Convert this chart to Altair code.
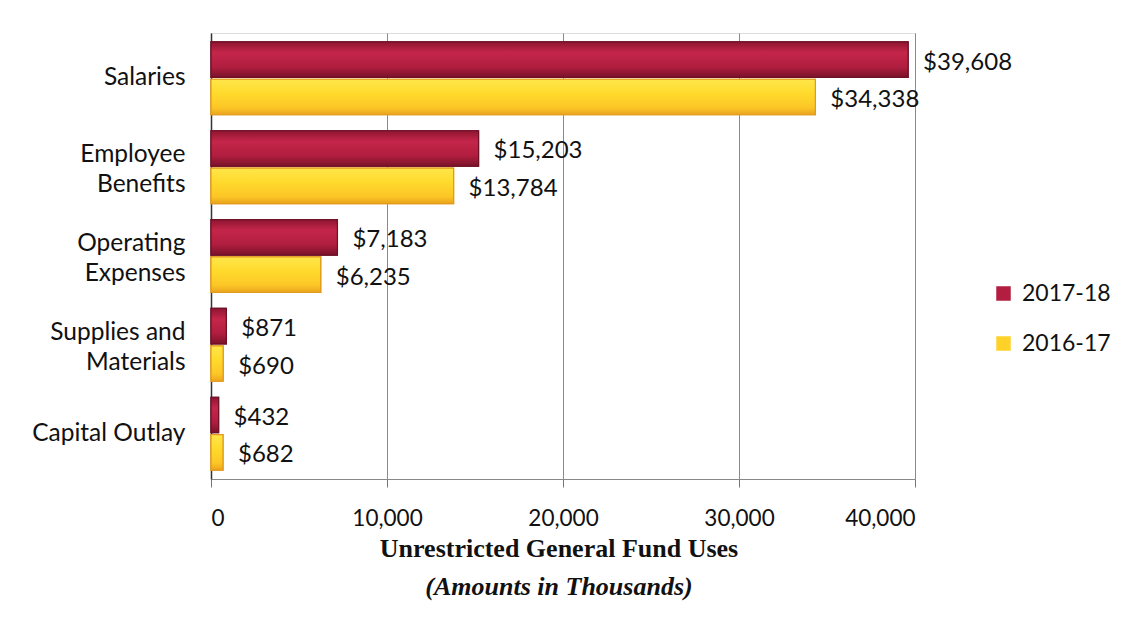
import altair as alt
import pandas as pd

categories = ["Salaries", "Employee|Benefits", "Operating|Expenses", "Supplies and|Materials", "Capital Outlay"]
years = ["2017-18", "2016-17"]
values_2017_18 = [39608, 15203, 7183, 871, 432]
values_2016_17 = [34338, 13784, 6235, 690, 682]
x_ticks = [0, 10000, 20000, 30000, 40000]

rows = []
for c, a, b in zip(categories, values_2017_18, values_2016_17):
    rows.append({"category": c, "year": years[0], "value": a})
    rows.append({"category": c, "year": years[1], "value": b})
df = pd.DataFrame(rows)

FONT = "Lato"
fill_colors = ["#B31D3F", "#FFD22A"]
stroke_colors = ["#6E1027", "#E29A1C"]

red_grad = alt.Gradient(gradient="linear", x1=0, y1=0, x2=0, y2=1, stops=[
    alt.GradientStop(offset=0, color="#8E1530"),
    alt.GradientStop(offset=0.3, color="#C4264A"),
    alt.GradientStop(offset=0.7, color="#B11E3F"),
    alt.GradientStop(offset=1, color="#7A1229"),
])
yellow_grad = alt.Gradient(gradient="linear", x1=0, y1=0, x2=0, y2=1, stops=[
    alt.GradientStop(offset=0, color="#FFE64A"),
    alt.GradientStop(offset=0.4, color="#FFDA2C"),
    alt.GradientStop(offset=0.8, color="#FCC626"),
    alt.GradientStop(offset=1, color="#EAA41E"),
])

base = alt.Chart(df).encode(
    y=alt.Y("category:N", sort=categories,
            scale=alt.Scale(paddingInner=0.18, paddingOuter=0.1),
            axis=alt.Axis(title=None, ticks=False, labelPadding=26,
                          labelExpr="split(datum.label, '|')",
                          labelOffset=alt.ExprRef("indexof(datum.label, '|') >= 0 ? -12 : 0"),
                          labelFont=FONT, labelFontSize=24.5, labelColor="#111",
                          labelLineHeight=30, labelAlign="right",
                          domainColor="#333", domainWidth=1.5, grid=False, labelLimit=300)),
    yOffset=alt.YOffset("year:N", sort=years, scale=alt.Scale(paddingInner=0.05)),
)

x_enc = alt.X("value:Q", scale=alt.Scale(domain=[0, 40000]),
              axis=alt.Axis(title=None, values=x_ticks, format=",d",
                            labelFont=FONT, labelFontSize=22.5, labelColor="#111",
                            labelPadding=20, tickSize=8, tickColor="#777",
                            domainColor="#888", gridColor="#8a8a8a", gridWidth=1))

bars = base.mark_bar(strokeWidth=1.2).encode(
    x=x_enc,
    color=alt.Color("year:N", sort=years,
                    scale=alt.Scale(domain=years, range=fill_colors),
                    legend=alt.Legend(title=None, orient="none", legendX=781, legendY=249,
                                      symbolType="square", symbolSize=210,
                                      symbolStrokeWidth=0, labelFont=FONT,
                                      labelFontSize=23, labelColor="#111",
                                      rowPadding=26, labelOffset=7)),
    stroke=alt.Stroke("year:N", sort=years,
                      scale=alt.Scale(domain=years, range=stroke_colors),
                      legend=None),
)

red_bars = base.transform_filter(alt.datum.year == years[0]).mark_bar(
    fill=red_grad, stroke=stroke_colors[0], strokeWidth=1.2).encode(x=alt.X("value:Q"))
yellow_bars = base.transform_filter(alt.datum.year == years[1]).mark_bar(
    fill=yellow_grad, stroke=stroke_colors[1], strokeWidth=1.2).encode(x=alt.X("value:Q"))

labels = base.mark_text(align="left", baseline="middle", dx=15, dy=3, font=FONT,
                        fontSize=24, color="#111").encode(
    x=alt.X("value:Q"),
    text="label:N",
).transform_calculate(label="'$' + format(datum.value, ',')")

chart = alt.layer(bars, red_bars, yellow_bars, labels).properties(
    width=704,
    height=446,
    autosize=alt.AutoSizeParams(type="none"),
    padding={"left": 203, "top": 25, "right": 205, "bottom": 135},
    title=alt.TitleParams(
        text="Unrestricted General Fund Uses",
        subtitle="(Amounts in Thousands)",
        orient="bottom", anchor="middle", dx=-4, offset=6,
        font="Liberation Serif", fontSize=26, fontWeight="bold", color="#111",
        subtitleFont="Liberation Serif", subtitleFontSize=26,
        subtitleFontStyle="italic", subtitleFontWeight="bold",
        subtitleColor="#111", subtitlePadding=12,
    ),
).configure_view(stroke=None).configure(background="white")

chart.save("out.html", embed_options={"renderer": "svg", "actions": False})
